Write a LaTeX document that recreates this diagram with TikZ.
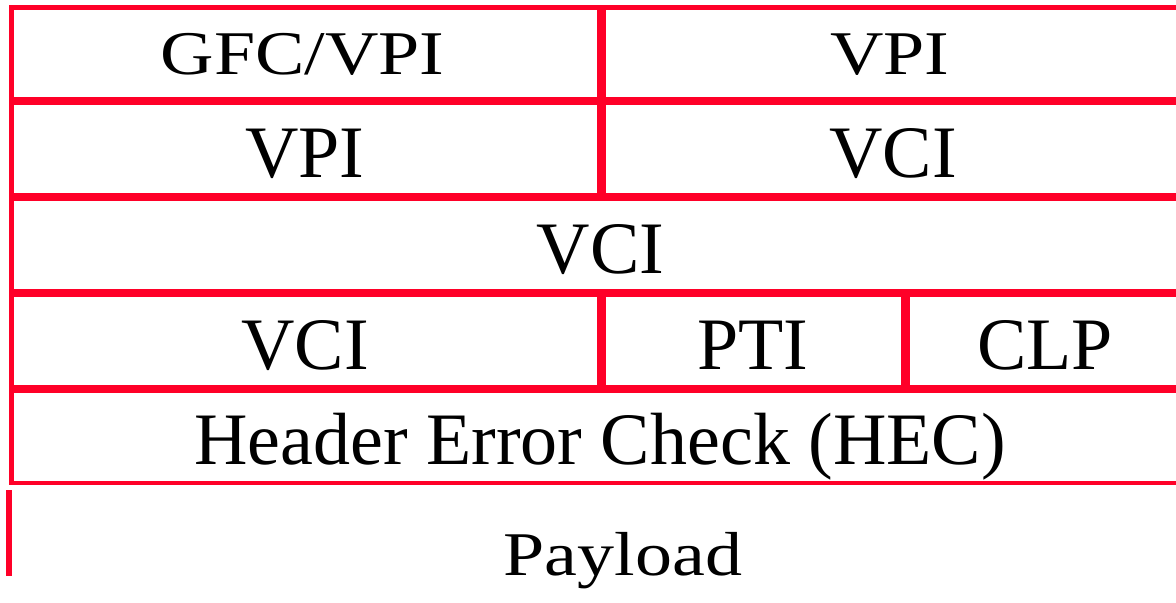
\documentclass[tikz,border=0pt]{standalone}
\usepackage{fontspec}
\setmainfont{Liberation Serif}
\definecolor{cellred}{RGB}{255,0,40}
\begin{document}
\begin{tikzpicture}[x=0.5pt,y=-0.5pt,
  grid/.style={draw=cellred,line cap=butt},
  lbl/.style={anchor=base,inner sep=0pt,font=\fontsize{37}{44}\selectfont},
  squat/.style={lbl}]
\useasboundingbox (0,0) rectangle (1176,602);
% coordinates
\coordinate (tl) at (9,7.5);
\coordinate (tr) at (1176,7.5);
% top and left borders
\draw[grid,line width=2.5pt] (tl) -- (tr);
\draw[grid,line width=2.5pt] (11.5,5) -- (11.5,485);
% row separators
\foreach \y in {101,197,293,389}{
  \draw[grid,line width=4pt] (9,\y) -- (1176,\y);
}
\draw[grid,line width=2pt] (9,483) -- (1176,483);
% vertical dividers
\draw[grid,line width=4.5pt] (601.5,7.5) -- (601.5,197);
\draw[grid,line width=4.5pt] (601.5,293) -- (601.5,389);
\draw[grid,line width=4.5pt] (905.5,293) -- (905.5,389);
% payload bar
\draw[grid,line width=3pt] (9,490) -- (9,576);
% labels
\node[lbl] (gfc) at (302.5,74) {\scalebox{1}[0.84]{GFC/VPI}};
\node[lbl] (vpi1) at (890,74) {\scalebox{1}[0.84]{VPI}};
\node[lbl] (vpi2) at (305,177) {VPI};
\node[lbl] (vci2) at (893,177) {VCI};
\node[lbl] (vci3) at (600.5,273) {VCI};
\node[lbl] (vci4) at (305,369) {VCI};
\node[lbl] (pti) at (753,369) {PTI};
\node[lbl] (clp) at (1045,369) {CLP};
\node[lbl] (hec) at (600,464) {Header Error Check (HEC)};
\node[lbl] (pay) at (623,575) {\scalebox{1}[0.84]{Payload}};
\end{tikzpicture}
\end{document}
